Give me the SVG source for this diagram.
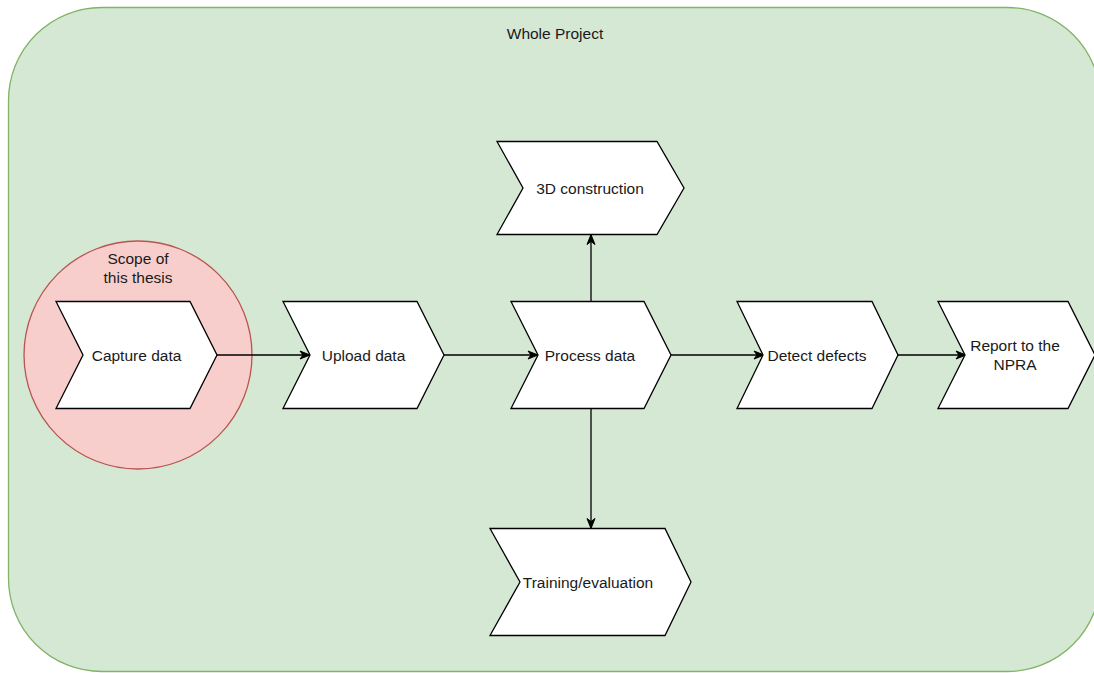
<svg xmlns="http://www.w3.org/2000/svg" width="1094" height="673" viewBox="0 0 1094 673">
<style>
.step{fill:#ffffff;stroke:#000000;stroke-width:1.3;stroke-linejoin:miter}
.lbl{font-family:"Liberation Sans",Arial,Helvetica,sans-serif;font-size:15.5px;fill:#1a1a1a;text-anchor:middle}
.conn{fill:none;stroke:#000000;stroke-width:1.3}
</style>
<defs>
<marker id="arr" markerUnits="userSpaceOnUse" markerWidth="12" markerHeight="10" viewBox="0 0 12 10" refX="11" refY="5" orient="auto">
<path d="M1,1 L11,5 L1,9 L4,5 Z" fill="#000000" stroke="#000000" stroke-width="1"/>
</marker>
</defs>
<rect width="1094" height="673" fill="#ffffff"/>
<g id="whole-project">
<rect x="8.5" y="7.5" width="1092" height="664" rx="93" ry="93" fill="#d5e8d4" stroke="#82b366" stroke-width="1.3"/>
<text class="lbl" x="555" y="39">Whole Project</text>
</g>
<g id="scope">
<circle cx="138" cy="355" r="114" fill="#f8cecc" stroke="#b85450" stroke-width="1.3"/>
<text class="lbl" x="138" y="264">Scope of</text>
<text class="lbl" x="138" y="283">this thesis</text>
</g>
<g id="connectors">
<line class="conn" x1="217" y1="355" x2="310" y2="355" marker-end="url(#arr)"/>
<line class="conn" x1="444" y1="355" x2="538" y2="355" marker-end="url(#arr)"/>
<line class="conn" x1="671" y1="355" x2="764" y2="355" marker-end="url(#arr)"/>
<line class="conn" x1="898" y1="355" x2="966" y2="355" marker-end="url(#arr)"/>
<line class="conn" x1="591" y1="301.5" x2="591" y2="234.5" marker-end="url(#arr)"/>
<line class="conn" x1="591" y1="408.5" x2="591" y2="528.5" marker-end="url(#arr)"/>
</g>
<g id="capture-data">
<polygon class="step" points="56,301.5 190,301.5 217,355 190,408.5 56,408.5 83,355"/>
<text class="lbl" x="136.5" y="360.5">Capture data</text>
</g>
<g id="upload-data">
<polygon class="step" points="283,301.5 417,301.5 444,355 417,408.5 283,408.5 310,355"/>
<text class="lbl" x="363.5" y="360.5">Upload data</text>
</g>
<g id="process-data">
<polygon class="step" points="511,301.5 644,301.5 671,355 644,408.5 511,408.5 538,355"/>
<text class="lbl" x="590" y="360.5">Process data</text>
</g>
<g id="construction-3d">
<polygon class="step" points="497,141.5 657,141.5 684,188 657,234.5 497,234.5 523,188"/>
<text class="lbl" x="590" y="193.5">3D construction</text>
</g>
<g id="training-evaluation">
<polygon class="step" points="490,528.5 665,528.5 691,582 665,635.5 490,635.5 520,582"/>
<text class="lbl" x="588" y="587.5">Training/evaluation</text>
</g>
<g id="detect-defects">
<polygon class="step" points="737,301.5 872,301.5 898,355 872,408.5 737,408.5 763,355"/>
<text class="lbl" x="817" y="360.5">Detect defects</text>
</g>
<g id="report-npra">
<polygon class="step" points="938,301.5 1068,301.5 1095,355 1068,408.5 938,408.5 965,355"/>
<text class="lbl" x="1015" y="350.5">Report to the</text>
<text class="lbl" x="1015" y="370">NPRA</text>
</g>
</svg>
